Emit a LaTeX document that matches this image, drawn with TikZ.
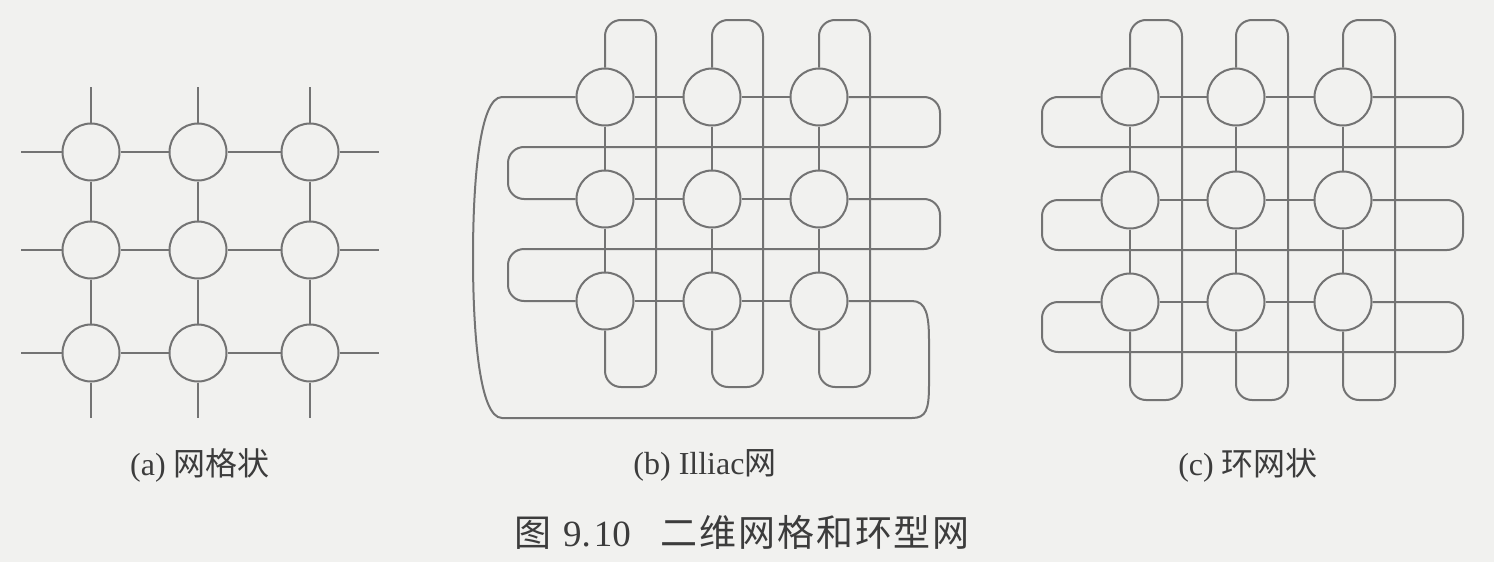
\documentclass[tikz,border=0pt]{standalone}
\usepackage{fontspec}
\setmainfont{Liberation Serif}
\newfontfamily\cjk{Noto Sans CJK SC}
\newfontfamily\cjkcap[LetterSpace=5]{Noto Sans CJK SC}
\usetikzlibrary{positioning,calc}
\definecolor{linegray}{RGB}{115,115,115}
\definecolor{bggray}{RGB}{241,241,239}
\definecolor{txtgray}{RGB}{60,60,60}

\begin{document}
\begin{tikzpicture}[x=1pt,y=-1pt,
    wire/.style={draw=linegray,line width=2pt},
    loopwire/.style={wire,rounded corners=16pt},
    penode/.style={draw=linegray,circle,line width=2pt,minimum size=57pt,inner sep=0pt},
    sublabel/.style={text=txtgray,inner sep=0pt,font=\fontsize{32}{36}\selectfont},
    caption/.style={text=txtgray,inner sep=0pt,font=\fontsize{37}{40}\selectfont}
  ]
  \fill[bggray] (0,0) rectangle (1494,562);
  \useasboundingbox (0,0) rectangle (1494,562);

  % (a) the mesh
  \foreach \i/\y in {1/152,2/250,3/353}
    \foreach \j/\x in {1/91,2/198,3/310}
      \node[penode] (a\i\j) at (\x,\y) {};
  \foreach \i/\y in {1/152,2/250,3/353} {
    \coordinate (al\i) at (21,\y);
    \coordinate (ar\i) at (379,\y);
    \draw[wire] (al\i) -- (a\i1) -- (a\i2) -- (a\i3) -- (ar\i);
  }
  \foreach \j/\x in {1/91,2/198,3/310} {
    \coordinate (at\j) at (\x,87);
    \coordinate (ab\j) at (\x,418);
    \draw[wire] (at\j) -- (a1\j) -- (a2\j) -- (a3\j) -- (ab\j);
  }

  % (b) the Illiac mesh
  \foreach \i/\y in {1/97,2/199,3/301}
    \foreach \j/\x in {1/605,2/712,3/819}
      \node[penode] (b\i\j) at (\x,\y) {};
  % the rows, one snake
  \foreach \i in {1,2,3}
    \draw[wire] (b\i1) -- (b\i2) -- (b\i3);
  \draw[loopwire] (b13.east) -- (940,97) -- (940,147) -- (508,147) -- (508,199) -- (b21.west);
  \draw[loopwire] (b23.east) -- (940,199) -- (940,249) -- (508,249) -- (508,301) -- (b31.west);
  \draw[wire] (b33.east) -- (912,301) .. controls (926,301) and (929,315) .. (929,340)
    -- (929,385) .. controls (929,410) and (926,418) .. (912,418) -- (502,418)
    .. controls (479,418) and (473,330) .. (473,257)
    .. controls (473,185) and (479,97) .. (502,97) -- (b11.west);
  % the columns
  \foreach \j/\x in {1/605,2/712,3/819} {
    \draw[wire] (b1\j) -- (b2\j) -- (b3\j);
    \draw[loopwire] (b3\j.south) -- (\x,387) -- (\x+51,387) -- (\x+51,20) -- (\x,20) -- (b1\j.north);
  }

  % (c) the torus
  \foreach \i/\y in {1/97,2/200,3/302}
    \foreach \j/\x in {1/1130,2/1236,3/1343}
      \node[penode] (c\i\j) at (\x,\y) {};
  \foreach \i/\y in {1/97,2/200,3/302} {
    \draw[wire] (c\i1) -- (c\i2) -- (c\i3);
    \draw[loopwire] (c\i3.east) -- (1463,\y) -- (1463,\y+50) -- (1042,\y+50) -- (1042,\y) -- (c\i1.west);
  }
  \foreach \j/\x in {1/1130,2/1236,3/1343} {
    \draw[wire] (c1\j) -- (c2\j) -- (c3\j);
    \draw[loopwire] (c3\j.south) -- (\x,400) -- (\x+52,400) -- (\x+52,20) -- (\x,20) -- (c1\j.north);
  }

  % the labels
  \node[sublabel] (la) at (200,465) {(a) {\cjk 网格状}};
  \node[sublabel] (lb) at (705,465) {(b) Illiac{\cjk 网}};
  \node[sublabel] (lc) at (1248,465) {(c) {\cjk 环网状}};
  \node[caption] (cap) at (742,532) {{\cjkcap 图}\hspace{12pt}9.\hspace{3pt}10\hspace{30pt}{\cjkcap 二维网格和环型网}};

\end{tikzpicture}
\end{document}
